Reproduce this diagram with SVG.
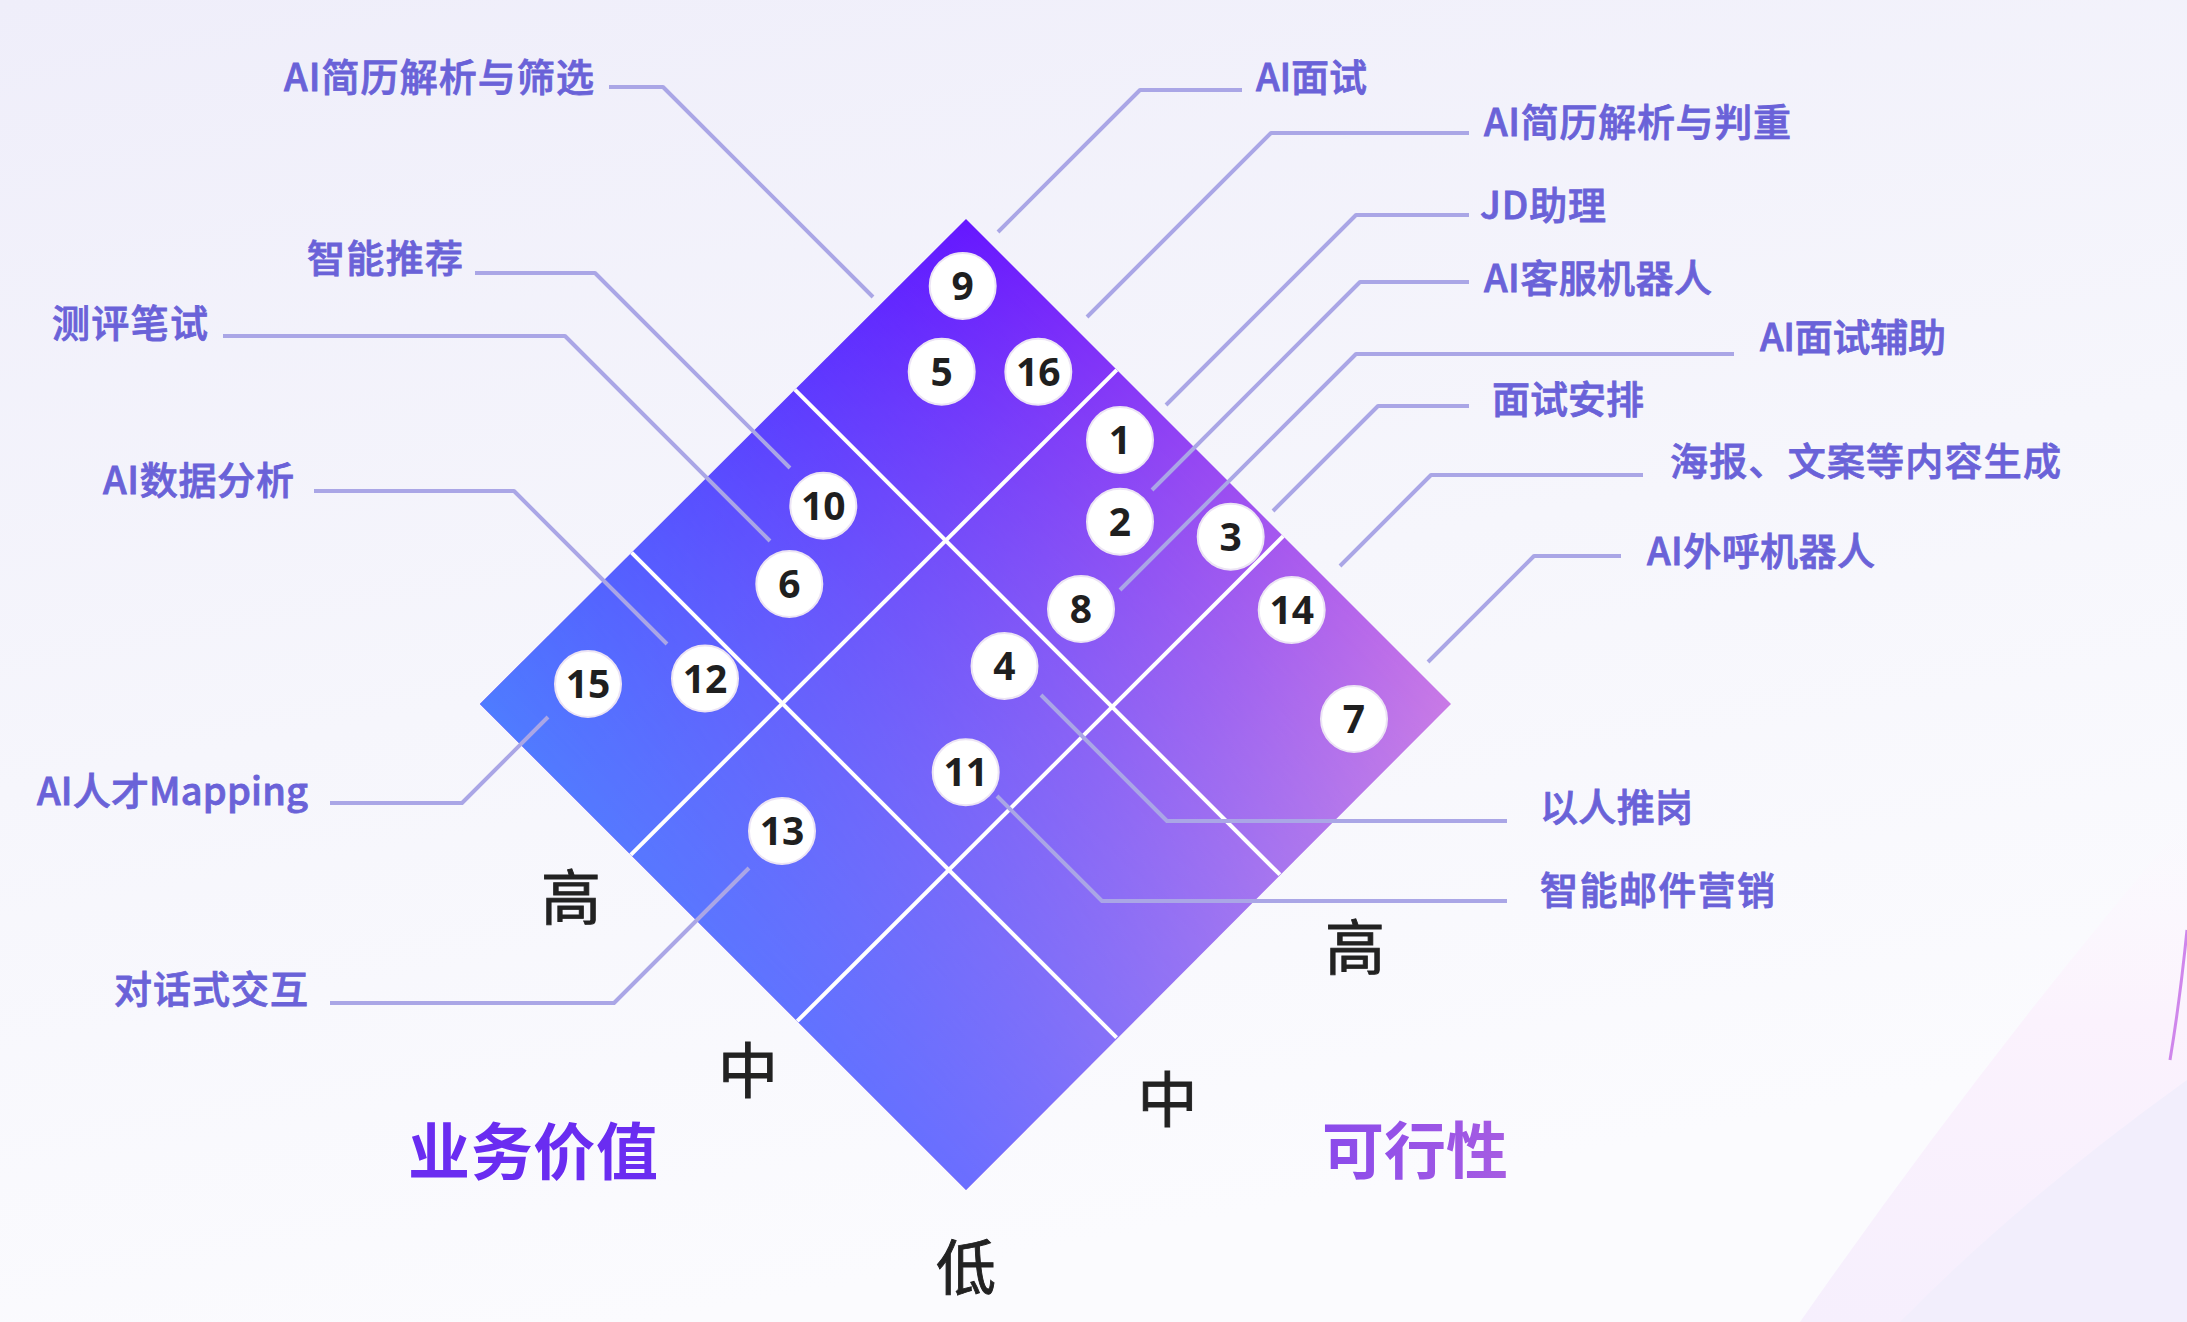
<svg xmlns="http://www.w3.org/2000/svg" width="2187" height="1322" viewBox="0 0 2187 1322">
<defs>
  <linearGradient id="bg" x1="0" y1="0" x2="0.3" y2="1">
    <stop offset="0" stop-color="#efeefa"/>
    <stop offset="0.55" stop-color="#f6f6fc"/>
    <stop offset="1" stop-color="#fbfbfe"/>
  </linearGradient>
  <linearGradient id="gTop" gradientUnits="userSpaceOnUse" x1="966" y1="219" x2="1451" y2="704">
    <stop offset="0" stop-color="#6618ff"/>
    <stop offset="1" stop-color="#c97ae6"/>
  </linearGradient>
  <linearGradient id="gBot" gradientUnits="userSpaceOnUse" x1="480" y1="704" x2="966" y2="1190">
    <stop offset="0" stop-color="#4e7cff"/>
    <stop offset="1" stop-color="#6a6eff"/>
  </linearGradient>
  <linearGradient id="gMask" gradientUnits="userSpaceOnUse" x1="966" y1="219" x2="480" y2="704">
    <stop offset="0" stop-color="#000"/>
    <stop offset="1" stop-color="#fff"/>
  </linearGradient>
  <mask id="vmask" maskUnits="userSpaceOnUse" x="0" y="0" width="2187" height="1322">
    <rect x="0" y="0" width="2187" height="1322" fill="url(#gMask)"/>
  </mask>
  <linearGradient id="gFeas" x1="0" y1="0" x2="1" y2="0">
    <stop offset="0" stop-color="#8a4aeb"/>
    <stop offset="1" stop-color="#a65ce2"/>
  </linearGradient>
  <linearGradient id="gArc" x1="0" y1="0" x2="0" y2="1">
    <stop offset="0" stop-color="#fdf6fd" stop-opacity="0"/>
    <stop offset="0.4" stop-color="#fbf2fd"/>
    <stop offset="1" stop-color="#f6effd"/>
  </linearGradient>
  <style>
    .lbl{font-family:"Noto Sans CJK SC","Noto Sans",sans-serif;font-size:38px;font-weight:500;fill:#6a62d8;stroke:#6a62d8;stroke-width:0.8;}
    .ax{font-family:"Noto Sans CJK SC","Noto Sans",sans-serif;font-size:60px;font-weight:400;fill:#222;stroke:#222;stroke-width:0.9;text-anchor:middle;}
    .ttl{font-family:"Noto Sans CJK SC","Noto Sans",sans-serif;font-size:62px;font-weight:700;}
    .num circle{fill:#fff;stroke:#ece4f4;stroke-width:2;}
    .num text{font-family:"Noto Sans","Noto Sans CJK SC",sans-serif;font-size:39px;font-weight:700;fill:#1f1f1f;text-anchor:middle;}
    .grid line{stroke:#fff;stroke-width:4;}
    .conn polyline{fill:none;stroke:#aaa6e6;stroke-width:4;stroke-linejoin:round;}
  </style>
</defs>

<rect id="background" x="0" y="0" width="2187" height="1322" fill="url(#bg)"/>
<path d="M2187,820 Q1990,1050 1800,1322 L2187,1322 Z" fill="url(#gArc)"/>
<path d="M2187,1080 Q2020,1200 1900,1322 L2187,1322 Z" fill="#f2eefc"/>
<path d="M2187,930 Q2180,1000 2170,1060" fill="none" stroke="#c46ae6" stroke-width="3" opacity="0.8"/>

<g id="diamond">
  <polygon points="966,219 1451,704 966,1190 480,704" fill="url(#gTop)"/>
  <polygon points="966,219 1451,704 966,1190 480,704" fill="url(#gBot)" mask="url(#vmask)"/>
  <g class="grid">
    <line x1="1116.8" y1="369.8" x2="630.8" y2="854.8"/>
    <line x1="1283.2" y1="536.2" x2="797.2" y2="1021.2"/>
    <line x1="794.9" y1="389.7" x2="1279.9" y2="874.7"/>
    <line x1="631.6" y1="552.7" x2="1116.6" y2="1037.7"/>
  </g>
</g>

<g id="connectors" class="conn">
  <polyline points="609,87 663,87 873,297"/>
  <polyline points="475,273 595,273 790,468"/>
  <polyline points="223,336 565,336 770,541"/>
  <polyline points="314,491 514,491 667,644"/>
  <polyline points="330,803 462,803 548,717"/>
  <polyline points="330,1003 614,1003 749,868"/>
  <polyline points="1242,90 1140,90 998,232"/>
  <polyline points="1469,133 1271,133 1087,317"/>
  <polyline points="1469,215 1356,215 1166,405"/>
  <polyline points="1469,282 1360,282 1152,490"/>
  <polyline points="1734,354 1356,354 1120,590"/>
  <polyline points="1469,406 1378,406 1273,511"/>
  <polyline points="1643,475 1431,475 1340,566"/>
  <polyline points="1621,556 1534,556 1428,662"/>
  <polyline points="1507,821 1167,821 1041,695"/>
  <polyline points="1507,901 1102,901 997,796"/>
</g>

<g id="n9" class="num"><circle cx="962.7" cy="286" r="33"/><text x="962.7" y="300">9</text></g>
<g id="n5" class="num"><circle cx="941.7" cy="371.7" r="33"/><text x="941.7" y="385.7">5</text></g>
<g id="n16" class="num"><circle cx="1038.3" cy="371.7" r="33"/><text x="1038.3" y="385.7">16</text></g>
<g id="n1" class="num"><circle cx="1120" cy="440" r="33"/><text x="1120" y="454">1</text></g>
<g id="n2" class="num"><circle cx="1120" cy="521.7" r="33"/><text x="1120" y="535.7">2</text></g>
<g id="n3" class="num"><circle cx="1230.7" cy="536.7" r="33"/><text x="1230.7" y="550.7">3</text></g>
<g id="n8" class="num"><circle cx="1081" cy="609" r="33"/><text x="1081" y="623">8</text></g>
<g id="n14" class="num"><circle cx="1291.7" cy="610" r="33"/><text x="1291.7" y="624">14</text></g>
<g id="n7" class="num"><circle cx="1354" cy="719" r="33"/><text x="1354" y="733">7</text></g>
<g id="n4" class="num"><circle cx="1004.5" cy="666" r="33"/><text x="1004.5" y="680">4</text></g>
<g id="n11" class="num"><circle cx="965.7" cy="772.3" r="33"/><text x="965.7" y="786.3">11</text></g>
<g id="n10" class="num"><circle cx="823.3" cy="505.7" r="33"/><text x="823.3" y="519.7">10</text></g>
<g id="n6" class="num"><circle cx="789.3" cy="584" r="33"/><text x="789.3" y="598">6</text></g>
<g id="n12" class="num"><circle cx="705" cy="678.5" r="33"/><text x="705" y="692.5">12</text></g>
<g id="n15" class="num"><circle cx="588" cy="684" r="33"/><text x="588" y="698">15</text></g>
<g id="n13" class="num"><circle cx="782" cy="831" r="33"/><text x="782" y="845">13</text></g>

<g id="labels-left">
  <text class="lbl" x="284" y="91" textLength="310" lengthAdjust="spacing">AI简历解析与筛选</text>
  <text class="lbl" x="307" y="272" textLength="156" lengthAdjust="spacing">智能推荐</text>
  <text class="lbl" x="52" y="337" textLength="156" lengthAdjust="spacing">测评笔试</text>
  <text class="lbl" x="103" y="493.5" textLength="191" lengthAdjust="spacing">AI数据分析</text>
  <text class="lbl" x="37" y="805" textLength="271" lengthAdjust="spacing">AI人才Mapping</text>
  <text class="lbl" x="114" y="1003" textLength="194" lengthAdjust="spacing">对话式交互</text>
</g>
<g id="labels-right">
  <text class="lbl" x="1256" y="90.5" textLength="111" lengthAdjust="spacing">AI面试</text>
  <text class="lbl" x="1484" y="135.5" textLength="307" lengthAdjust="spacing">AI简历解析与判重</text>
  <text class="lbl" x="1480" y="218.5" textLength="126" lengthAdjust="spacing">JD助理</text>
  <text class="lbl" x="1484" y="291.5" textLength="228" lengthAdjust="spacing">AI客服机器人</text>
  <text class="lbl" x="1760" y="350.5" textLength="186" lengthAdjust="spacing">AI面试辅助</text>
  <text class="lbl" x="1492" y="413" textLength="152" lengthAdjust="spacing">面试安排</text>
  <text class="lbl" x="1670" y="474.5" textLength="391" lengthAdjust="spacing">海报、文案等内容生成</text>
  <text class="lbl" x="1647" y="564.5" textLength="228" lengthAdjust="spacing">AI外呼机器人</text>
  <text class="lbl" x="1540" y="820.5" textLength="153" lengthAdjust="spacing">以人推岗</text>
  <text class="lbl" x="1540" y="903.5" textLength="235" lengthAdjust="spacing">智能邮件营销</text>
</g>

<g id="axis-labels">
  <text class="ax" x="571" y="920">高</text>
  <text class="ax" x="748" y="1093">中</text>
  <text class="ax" x="966" y="1290">低</text>
  <text class="ax" x="1167.5" y="1122">中</text>
  <text class="ax" x="1355" y="970">高</text>
  <text class="ttl" x="408" y="1175" textLength="250" lengthAdjust="spacing" fill="#6a2cf1">业务价值</text>
  <text class="ttl" x="1322" y="1174" textLength="186" lengthAdjust="spacing" fill="url(#gFeas)">可行性</text>
</g>
</svg>
